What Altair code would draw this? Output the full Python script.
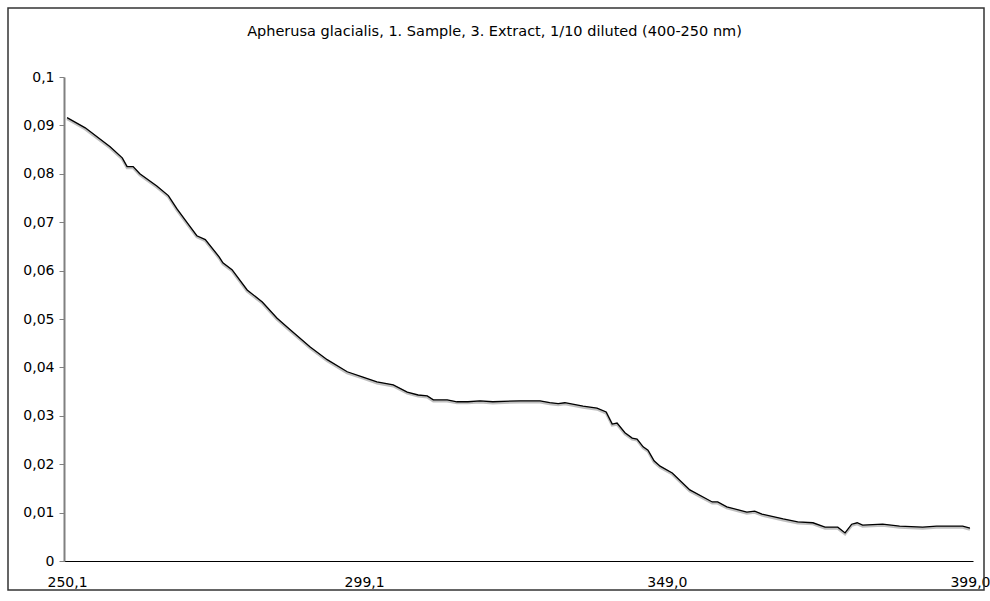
import altair as alt
import pandas as pd

title_text = "Apherusa glacialis, 1. Sample, 3. Extract, 1/10 diluted (400-250 nm)"

wavelength = [250.1, 253.1, 257.2, 259.2, 260.0, 261.0, 262.1, 264.9, 266.8, 268.2,
              269.9, 271.5, 272.9, 275.2, 275.8, 277.3, 279.8, 282.3, 284.7, 286.9,
              290.2, 293.0, 296.3, 298.9, 301.2, 303.9, 306.2, 308.0, 309.5, 310.5,
              312.8, 314.4, 316.2, 318.2, 320.3, 324.8, 328.1, 329.7, 331.1, 332.2,
              335.2, 337.5, 339.0, 340.0, 340.8, 342.1, 343.3, 344.1, 345.1, 345.9,
              346.9, 347.9, 349.9, 352.8, 356.5, 357.4, 358.9, 362.2, 363.5, 364.7,
              368.2, 370.6, 373.1, 375.1, 377.2, 378.4, 379.5, 380.4, 381.3, 384.6,
              387.4, 391.2, 393.5, 397.8, 399.0]
absorbance = [0.0916, 0.0895, 0.0856, 0.0833, 0.0815, 0.0815, 0.0800, 0.0775, 0.0755, 0.0728,
              0.0699, 0.0672, 0.0664, 0.0628, 0.0616, 0.0602, 0.0560, 0.0535, 0.0502, 0.0478,
              0.0442, 0.0416, 0.0391, 0.0380, 0.0370, 0.0364, 0.0349, 0.0343, 0.0341, 0.0333,
              0.0333, 0.0329, 0.0329, 0.0331, 0.0329, 0.0331, 0.0331, 0.0327, 0.0325, 0.0327,
              0.0320, 0.0316, 0.0308, 0.0283, 0.0285, 0.0265, 0.0254, 0.0252, 0.0236, 0.0229,
              0.0207, 0.0196, 0.0182, 0.0147, 0.0122, 0.0122, 0.0112, 0.0101, 0.0103, 0.0097,
              0.0087, 0.0081, 0.0079, 0.0070, 0.0070, 0.0058, 0.0076, 0.0079, 0.0074, 0.0076,
              0.0072, 0.0070, 0.0072, 0.0072, 0.0068]

x_ticks = [250.1, 299.1, 349.0, 399.0]
y_ticks = [0, 0.01, 0.02, 0.03, 0.04, 0.05, 0.06, 0.07, 0.08, 0.09, 0.1]

df = pd.DataFrame({"nm": wavelength, "A": absorbance})

W, H = 909, 484
PAD_L, PAD_T, PAD_R, PAD_B = 64, 77, 17, 40
FONT = "DejaVu Sans"

x_scale = alt.Scale(domain=[249.6, 399.5], nice=False, zero=False)
y_scale = alt.Scale(domain=[0, 0.1], nice=False)

x_axis = alt.Axis(values=x_ticks, title=None, grid=False, ticks=False,
                  domainColor="#000000", domainWidth=1.2,
                  labelExpr="replace(format(datum.value, '.1f'), '.', ',')",
                  labelFont=FONT, labelFontSize=14, labelColor="#000000",
                  labelPadding=14, labelFlush=False, labelOverlap=False)
y_axis = alt.Axis(values=y_ticks, title=None, grid=False,
                  domainColor="#808080", domainWidth=2,
                  tickColor="#808080", tickSize=5, tickWidth=1,
                  labelExpr="replace(format(datum.value, '~g'), '.', ',')",
                  labelFont=FONT, labelFontSize=14, labelColor="#000000",
                  labelPadding=5)

base = alt.Chart(df)

shadow = base.transform_calculate(As="datum.A - 0.00025").mark_line(
    color="#c0c0c0", strokeWidth=2.8
).encode(
    x=alt.X("nm:Q", scale=x_scale, axis=x_axis),
    y=alt.Y("As:Q", scale=y_scale, axis=y_axis),
)

line = base.mark_line(color="#000000", strokeWidth=1.3).encode(
    x=alt.X("nm:Q", scale=x_scale, axis=x_axis),
    y=alt.Y("A:Q", scale=y_scale, axis=y_axis),
)

border = alt.Chart(pd.DataFrame({"k": [0]})).mark_rect(
    fill=None, stroke="#333333", strokeWidth=1.5, clip=False
).encode(
    x=alt.value(8 - PAD_L), x2=alt.value(984 - PAD_L),
    y=alt.value(8 - PAD_T), y2=alt.value(590 - PAD_T),
)

title_mark = alt.Chart(pd.DataFrame({"t": [title_text]})).mark_text(
    font=FONT, fontSize=14.5, color="#000000", align="center", baseline="middle",
    clip=False
).encode(
    text="t:N",
    x=alt.value(494.5 - PAD_L),
    y=alt.value(32 - PAD_T),
)

chart = alt.layer(border, shadow, line, title_mark).properties(
    width=W, height=H,
    autosize=alt.AutoSizeParams(type="none"),
    padding={"left": PAD_L, "top": PAD_T, "right": PAD_R, "bottom": PAD_B},
    background="white",
).resolve_axis(x="shared", y="shared").configure_view(stroke=None)

chart.save("out.html", embed_options={"renderer": "svg", "actions": False})
